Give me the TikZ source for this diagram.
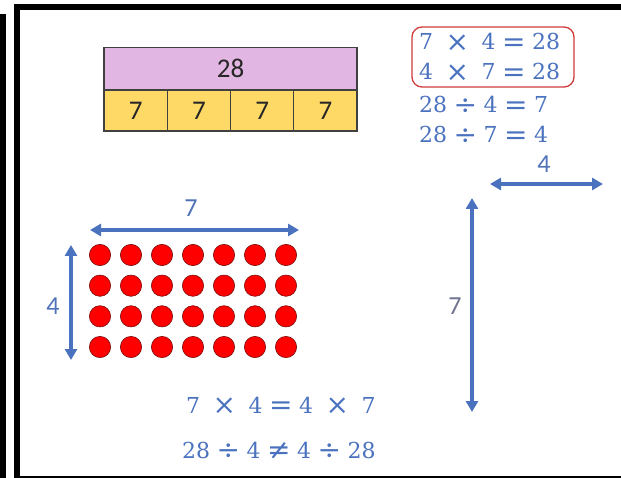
\documentclass[tikz,border=0pt]{standalone}
\usepackage{fontspec}
\setsansfont{Carlito}
\newfontfamily\eqfont{DejaVu Serif}
\usetikzlibrary{arrows.meta}
\definecolor{eqblue}{HTML}{4A72BE}
\definecolor{lblblue}{HTML}{4F72B8}
\definecolor{lblgray}{HTML}{6E7490}
\definecolor{barpurple}{HTML}{E2B6E2}
\definecolor{baryellow}{HTML}{FFD966}
\definecolor{barline}{HTML}{404040}
\definecolor{boxred}{HTML}{D03A3A}
\definecolor{dotred}{HTML}{FF0000}
\definecolor{dotedge}{HTML}{7A1010}
\newcommand{\wsp}{\hspace{12.5pt}}
\newcommand{\nsp}{\hspace{6.5pt}}
\newcommand{\opx}[1]{\raisebox{-1.8pt}{\fontsize{28}{26}\selectfont #1}}
\begin{document}
\begin{tikzpicture}[x=1pt,y=-1pt,
  eq/.style={text=eqblue,inner sep=0pt,font=\eqfont\fontsize{22}{26}\selectfont,anchor=base west},
  lbl/.style={text=lblblue,inner sep=0pt,font=\sffamily\fontsize{26}{30}\selectfont,anchor=base},
  barcell/.style={draw=barline,line width=1.2pt,inner sep=0pt,font=\sffamily\fontsize{27}{30}\selectfont,text=black!85},
  dot/.style={circle,minimum size=21.3pt,inner sep=0pt,fill=dotred,draw=dotedge,line width=0.6pt},
  dimarrow/.style={draw=eqblue,line width=3.6pt,{Triangle[length=11pt,width=12pt]}-{Triangle[length=11pt,width=12pt]}}
]
\useasboundingbox (0,0) rectangle (621,478);
% frame
\fill[black] (0,14) rectangle (6,478);
\fill[black] (14,4) rectangle (20,478);
\fill[black] (14,4) rectangle (621,10);
\fill[black] (14,476) rectangle (621,477.6);
% bar model
\node[barcell,fill=barpurple,minimum width=253pt,minimum height=42pt] (whole) at (230.5,68.5) {28};
\foreach \k in {0,1,2,3}{
  \node[barcell,fill=baryellow,minimum width=63.25pt,minimum height=41pt] (part\k) at ({104+63.25*(\k+0.5)},110.5) {7};
}
% equations top right
\node[eq] (e1) at (419,50) {7\wsp\opx{×}\wsp4\nsp\opx{=}\nsp28};
\node[eq] (e2) at (419,80) {4\wsp\opx{×}\wsp7\nsp\opx{=}\nsp28};
\node[eq] (e3) at (419,113) {28\nsp\opx{÷}\nsp4\nsp\opx{=}\nsp7};
\node[eq] (e4) at (419,143) {28\nsp\opx{÷}\nsp7\nsp\opx{=}\nsp4};
\draw[boxred,line width=1.3pt,rounded corners=10pt] (412,27) rectangle (574,87);
% top-right horizontal arrow
\coordinate (ha1) at (490,184);
\coordinate (ha2) at (603,184);
\draw[dimarrow] (ha1) -- (ha2);
\node[lbl] (l4a) at (544,173) {4};
% vertical arrow
\coordinate (va1) at (472,198);
\coordinate (va2) at (472,412);
\draw[dimarrow] (va1) -- (va2);
\node[lbl,text=lblgray] (l7b) at (455,315) {7};
% dot array
\foreach \i in {0,...,6}{
  \foreach \j in {0,...,3}{
    \node[dot] (d\i\j) at ({100+31*\i},{255+30.67*\j}) {};
  }
}
\coordinate (ta1) at (90,230);
\coordinate (ta2) at (299,230);
\draw[dimarrow] (ta1) -- (ta2);
\node[lbl] (l7a) at (191,217) {7};
\coordinate (la1) at (71,245);
\coordinate (la2) at (71,360);
\draw[dimarrow] (la1) -- (la2);
\node[lbl] (l4b) at (53,314) {4};
% bottom equations
\node[eq] (e5) at (186,413) {7\wsp\opx{×}\wsp4\nsp\opx{=}\nsp4\wsp\opx{×}\wsp7};
\node[eq] (e6) at (182,458) {28\nsp\opx{÷}\nsp4\nsp\opx{≠}\nsp4\nsp\opx{÷}\nsp28};
\end{tikzpicture}
\end{document}
